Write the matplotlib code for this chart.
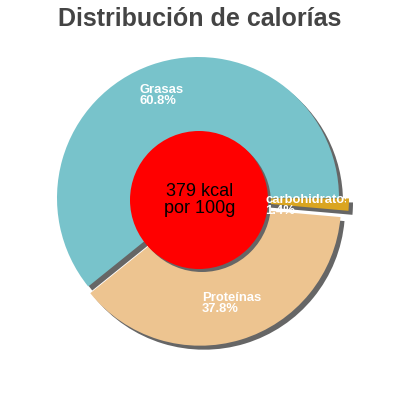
import matplotlib
matplotlib.use("Agg")
import matplotlib.pyplot as plt
from matplotlib.patches import Circle, Rectangle

plt.rcParams['font.family'] = ['Liberation Sans', 'DejaVu Sans']

labels = ['Grasas', 'Proteínas', 'carbohidratos']
values = [60.8, 37.8, 1.4]
colors = ['#78c3cb', '#edc490', '#daa520']
center_text = '379 kcal\npor 100g'
title = 'Distribución de calorías'

W = 400
CX, CY, R = 198, 400 - 198, 141   # pie centre / radius in pixel units
SH = 4                             # shadow offset
explode = [0, 7, 10]               # pie explode is in data units (px here)

fig = plt.figure(figsize=(4, 4), dpi=100)
ax = fig.add_axes([0, 0, 1, 1])

# shadow
ax.pie(values, explode=explode, colors=['#666666'] * 3, startangle=0,
       counterclock=True, radius=R, center=(CX + SH, CY - SH),
       wedgeprops=dict(linewidth=0), frame=True)
wedges, _ = ax.pie(values, explode=explode, colors=colors, startangle=0,
                   counterclock=True, radius=R, center=(CX, CY),
                   wedgeprops=dict(linewidth=0), frame=True)
ax.set_xlim(0, W)
ax.set_ylim(0, W)
ax.set_aspect('equal')
ax.axis('off')

# centre disc
ax.add_patch(Circle((199 + 3, 400 - 200 - 3), 69, color='#666666', lw=0))
ax.add_patch(Circle((199, 400 - 200), 69, color='#ff0000', lw=0))
ax.text(200, 400 - 200, center_text, ha='center', va='center', fontsize=13,
        color='black', linespacing=1.0)

# labels
clip = Rectangle((0, 0), 346, W, transform=ax.transData, visible=False)
ax.add_patch(clip)
label_pos = [(140, 400 - 84), (202, 400 - 292), (265, 400 - 194)]
for lab, v, (x, y) in zip(labels, values, label_pos):
    t = ax.text(x, y, f'{lab}\n{v}%', ha='left', va='top', fontsize=9.4,
                fontweight='bold', color='white', linespacing=0.92)
    if lab == 'carbohidratos':
        t.set_clip_path(clip)
        t.set_clip_on(True)

fig.text(0.5, 1 - 19 / 400, title, ha='center', va='center', fontsize=18,
         fontweight='bold', color='#444444')

fig.savefig('out.png', dpi=100)
